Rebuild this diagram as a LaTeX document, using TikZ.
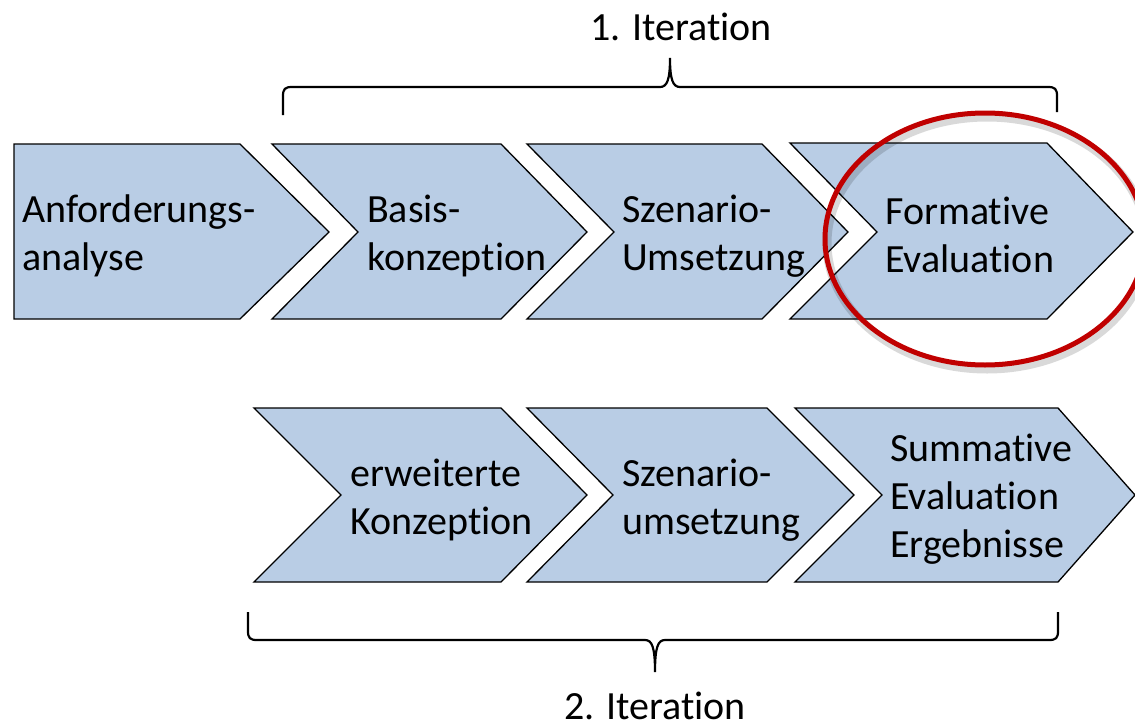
\documentclass[tikz,border=0pt]{standalone}
\usepackage{fontspec}
\setmainfont{Carlito}[Ligatures=NoCommon]
\definecolor{chevfill}{HTML}{B9CDE5}
\definecolor{circred}{HTML}{C00000}
\begin{document}
\begin{tikzpicture}[x=1pt,y=-1pt,
  chev/.style={draw=black, line width=1.3pt, fill=chevfill, line join=miter},
  lbl/.style={font=\fontsize{40}{48}\selectfont, align=left, anchor=west, inner sep=0pt},
  ttl/.style={font=\fontsize{40}{48}\selectfont, inner sep=0pt},
  bracestyle/.style={draw=black, line width=2.2pt},
]
\useasboundingbox (0,0) rectangle (1135,728);
% row 1
\path[chev] (14,144) -- (240,144) -- (329,232) -- (240,319) -- (14,319) -- cycle;
\path[chev] (272,144) -- (501,144) -- (587,232) -- (501,319) -- (272,319) -- (358,232) -- cycle;
\path[chev] (527,144) -- (762,144) -- (848,232) -- (762,319) -- (527,319) -- (614,232) -- cycle;
\path[chev] (790,143) -- (1047,143) -- (1133,232) -- (1047,319) -- (790,319) -- (877,232) -- cycle;
% row 2
\path[chev] (254,408) -- (501,408) -- (587,495) -- (501,582) -- (254,582) -- (341,495) -- cycle;
\path[chev] (527,408) -- (767,408) -- (854,495) -- (767,582) -- (527,582) -- (613,495) -- cycle;
\path[chev] (795,408) -- (1058,408) -- (1135,495) -- (1058,582) -- (795,582) -- (882,495) -- cycle;
% texts
\node[lbl] (t1) at (22,236) {Anforderungs-\\analyse};
\node[lbl] (t2) at (367,236) {Basis-\\konzeption};
\node[lbl] (t3) at (622,236) {Szenario-\\Umsetzung};
\node[lbl] (t4) at (885,235) {Formative\\Evaluation};
\node[lbl] (t5) at (350,500) {erweiterte\\Konzeption};
\node[lbl] (t6) at (622,500) {Szenario-\\umsetzung};
\node[lbl] (t7) at (890,499) {Summative\\Evaluation\\Ergebnisse};
% braces
\draw[bracestyle] (283,115) -- (283,96) .. controls (283,89) and (285,87) .. (292,87) -- (660,87) .. controls (667,87) and (670,80) .. (670,58) .. controls (670,80) and (673,87) .. (680,87) -- (1048,87) .. controls (1055,87) and (1057,89) .. (1057,96) -- (1057,112);
\draw[bracestyle] (248,612) -- (248,631) .. controls (248,638) and (250,640) .. (257,640) -- (645,640) .. controls (652,640) and (655,647) .. (655,672) .. controls (655,647) and (658,640) .. (665,640) -- (1049,640) .. controls (1056,640) and (1058,638) .. (1058,631) -- (1058,612);
\node[ttl] (it1) at (681,27) {1. Iteration};
\node[ttl] (it2) at (655,706) {2. Iteration};
% highlight
\draw[black, opacity=0.15, line width=9pt] (987,243) ellipse [x radius=160pt, y radius=126pt];
\draw[circred, line width=5pt] (985,239) ellipse [x radius=160pt, y radius=126pt];
\end{tikzpicture}
\end{document}
